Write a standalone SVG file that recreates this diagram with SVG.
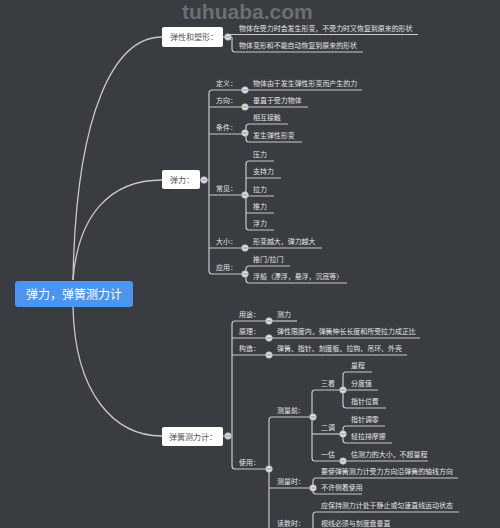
<svg xmlns="http://www.w3.org/2000/svg" xmlns:xlink="http://www.w3.org/1999/xlink" width="500" height="528" viewBox="0 0 500 528">
<style>
.ln{fill:none;stroke:#c8c8c8;stroke-width:1.2}
.cv{fill:none;stroke:#c8c8c8;stroke-width:1.3}
.t{font-family:"Noto Sans CJK SC","Noto Sans",sans-serif;font-size:6.95px;fill:#e4e4e4}
.nt{font-family:"Noto Sans CJK SC","Noto Sans",sans-serif;font-size:8px;fill:#555}
.box{fill:#ffffff}
.wm{font-family:"Liberation Sans",Arial,sans-serif;font-size:21px;font-weight:bold;fill:#6c6e72}
</style>
<defs>
<g id="col"><circle r="3.3" fill="#e2e2e2" stroke="#a8a8a8" stroke-width="0.8"/><path d="M-1.8,0H1.8" stroke="#777" stroke-width="0.9"/></g>
</defs>
<rect width="500" height="528" fill="#393c41"/>
<text class="wm" x="182" y="19">tuhuaba.com</text>

<g id="connectors">
<path class="cv" d="M73,280 C76,110 115,37 162,37"/>
<path class="cv" d="M73,280 C78,215 110,180 162,180"/>
<path class="cv" d="M73,307 C75,395 115,436 162,436"/>
</g>

<g id="root">
<rect x="15" y="281" width="118" height="26" rx="3" fill="#4b94ef"/>
<text x="74" y="298.5" text-anchor="middle" font-family="'Noto Sans CJK SC','Noto Sans',sans-serif" font-size="12" fill="#ffffff">弹力，弹簧测力计</text>
</g>

<g id="n-elastic-plastic">
<rect class="box" x="162" y="27" width="61" height="20" rx="2"/>
<text class="nt" x="170" y="40">弹性和塑形：</text>
<path class="ln" d="M223,37H228"/>
<path class="ln" d="M230,34.5H418"/>
<path class="ln" d="M232,37V49Q232,52 235,52H363"/>
<use xlink:href="#col" x="228" y="37"/>
<text class="t" x="239" y="31">物体在受力时会发生形变，不受力时又恢复到原来的形状</text>
<text class="t" x="239" y="48">物体变形和不能自动恢复到原来的形状</text>
</g>

<g id="n-elastic-force">
<rect class="box" x="162" y="170" width="38" height="19" rx="2"/>
<text class="nt" x="170" y="183">弹力：</text>
<path class="ln" d="M200,180H209"/>
<path class="ln" d="M245,90H212Q209,90 209,93V271Q209,274 212,274H245"/>
<path class="ln" d="M209,107H245M209,134H245M209,195H245M209,248H245"/>
<text class="t" x="216" y="85.5">定义：</text>
<text class="t" x="216" y="102.5">方向：</text>
<text class="t" x="216" y="129.5">条件：</text>
<text class="t" x="216" y="190.5">常见：</text>
<text class="t" x="216" y="243.5">大小：</text>
<text class="t" x="216" y="269.5">应用：</text>
<path class="ln" d="M245,90H362"/>
<text class="t" x="253" y="85.5">物体由于发生弹性形变而产生的力</text>
<path class="ln" d="M245,107H308"/>
<text class="t" x="253" y="102.5">垂直于受力物体</text>
<path class="ln" d="M288,124H249Q246,124 246,127V139Q246,142 249,142H302"/>
<text class="t" x="253" y="119.5">相互接触</text>
<text class="t" x="253" y="137.5">发生弹性形变</text>
<path class="ln" d="M274,161H249Q246,161 246,164V227Q246,230 249,230H274"/>
<path class="ln" d="M246,178H281M246,196H274M246,213H274"/>
<text class="t" x="253" y="156.5">压力</text>
<text class="t" x="253" y="173.5">支持力</text>
<text class="t" x="253" y="191.5">拉力</text>
<text class="t" x="253" y="208.5">推力</text>
<text class="t" x="253" y="225.5">浮力</text>
<path class="ln" d="M245,248H322"/>
<text class="t" x="253" y="243.5">形变越大，弹力越大</text>
<path class="ln" d="M290,266H249Q246,266 246,269V280Q246,283 249,283H347"/>
<text class="t" x="253" y="261.5">推门/拉门</text>
<text class="t" x="253" y="278.5">浮船（漂浮，悬浮，沉底等）</text>
<use xlink:href="#col" x="204" y="180"/>
<use xlink:href="#col" x="245" y="90"/>
<use xlink:href="#col" x="245" y="107"/>
<use xlink:href="#col" x="245" y="133"/>
<use xlink:href="#col" x="245" y="195"/>
<use xlink:href="#col" x="245" y="248"/>
<use xlink:href="#col" x="245" y="274"/>
</g>

<g id="n-spring-scale">
<rect class="box" x="162" y="427" width="61" height="19" rx="2"/>
<text class="nt" x="169" y="440">弹簧测力计：</text>
<path class="ln" d="M223,436H228"/>
<path class="ln" d="M269,321H235Q232,321 232,324V466Q232,469 235,469H269"/>
<path class="ln" d="M232,338H269M232,355H269"/>
<text class="t" x="239" y="316.5">用途：</text>
<text class="t" x="239" y="333.5">原理：</text>
<text class="t" x="239" y="350.5">构造：</text>
<text class="t" x="239" y="464.5">使用：</text>
<path class="ln" d="M269,321H297"/>
<text class="t" x="277" y="316.5">测力</text>
<path class="ln" d="M269,338H420"/>
<text class="t" x="277" y="333.5">弹性限度内，弹簧伸长长度和所受拉力成正比</text>
<path class="ln" d="M269,355H407"/>
<text class="t" x="277" y="350.5">弹簧、指针、刻度板、拉钩、吊环、外壳</text>
<path class="ln" d="M313,417H272Q269,417 269,420V540"/>
<path class="ln" d="M269,488H313M269,531H313"/>
<text class="t" x="277" y="412.5">测量前：</text>
<text class="t" x="277" y="483.5">测量时：</text>
<text class="t" x="277" y="526">读数时：</text>
<path class="ln" d="M343,390H315Q312,390 312,393V458Q312,461 315,461H343"/>
<path class="ln" d="M312,434H343"/>
<text class="t" x="321" y="385.5">三看</text>
<text class="t" x="321" y="429.5">二调</text>
<text class="t" x="321" y="456.5">一估</text>
<path class="ln" d="M372,372H346Q343,372 343,375V405Q343,408 346,408H386"/>
<path class="ln" d="M343,390H378"/>
<text class="t" x="351" y="367.5">量程</text>
<text class="t" x="351" y="385.5">分度值</text>
<text class="t" x="351" y="403.5">指针位置</text>
<path class="ln" d="M385,426H346Q343,426 343,429V440Q343,443 346,443H392"/>
<text class="t" x="351" y="421.5">指针调零</text>
<text class="t" x="351" y="438.5">轻拉排摩擦</text>
<path class="ln" d="M343,461H428"/>
<text class="t" x="351" y="456.5">估测力的大小，不超量程</text>
<path class="ln" d="M458,478H316Q313,478 313,481V491Q313,494 316,494H362"/>
<text class="t" x="321" y="473.5">要使弹簧测力计受力方向沿弹簧的轴线方向</text>
<text class="t" x="321" y="489.5">不许侧着使用</text>
<path class="ln" d="M459,512H316Q313,512 313,515V540"/>
<text class="t" x="321" y="507.5">应保持测力计处于静止或匀速直线运动状态</text>
<text class="t" x="321" y="525.5">视线必须与刻度盘垂直</text>
<use xlink:href="#col" x="228" y="436"/>
<use xlink:href="#col" x="269" y="321"/>
<use xlink:href="#col" x="269" y="338"/>
<use xlink:href="#col" x="269" y="355"/>
<use xlink:href="#col" x="269" y="469"/>
<use xlink:href="#col" x="313" y="417"/>
<use xlink:href="#col" x="313" y="488"/>
<use xlink:href="#col" x="343" y="390"/>
<use xlink:href="#col" x="343" y="434"/>
<use xlink:href="#col" x="343" y="461"/>
</g>
</svg>
